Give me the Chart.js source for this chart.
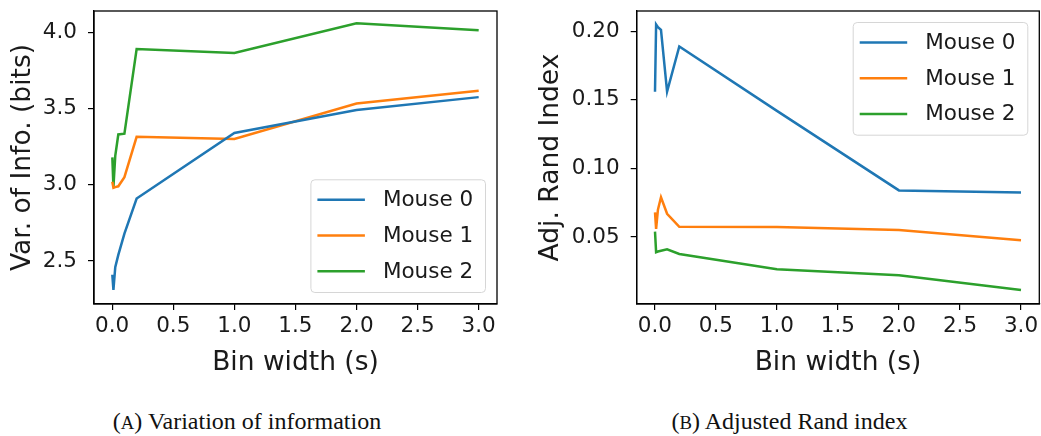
<!DOCTYPE html>
<html>
<head>
<meta charset="utf-8">
<script src="https://cdn.jsdelivr.net/npm/chart.js@4.4.1/dist/chart.umd.min.js"></script>
<style>
  body { margin: 0; background: #fff; width: 1041px; height: 436px; overflow: hidden; position: relative; }
  .panel { position: absolute; top: 0; }
  .caption { position: absolute; top: 408px; font-family: "Liberation Serif", "Times New Roman", serif; font-size: 24px; line-height: 26px; color: #111; text-align: center; white-space: nowrap; }
  .sc { font-size: 0.78em; }
</style>
</head>
<body>
<div class="panel" style="left:0"><canvas id="viChart" width="520" height="400"></canvas></div>
<div class="panel" style="left:520px"><canvas id="ariChart" width="521" height="400"></canvas></div>
<div class="caption" style="left:0; width:494px">(<span class="sc">A</span>) Variation of information</div>
<div class="caption" style="left:520px; width:539px">(<span class="sc">B</span>) Adjusted Rand index</div>
<script>
// bin widths in seconds (shared by both panels)
const binWidths = [0.001, 0.01, 0.025, 0.05, 0.1, 0.2, 1, 2, 3];
const seriesNames = ['Mouse 0', 'Mouse 1', 'Mouse 2'];
const seriesColors = ['#1f77b4', '#ff7f0e', '#2ca02c'];

// (A) variation of information, bits
const viMouse0 = [2.41, 2.31, 2.46, 2.54, 2.68, 2.91, 3.34, 3.49, 3.575];
const viMouse1 = [3.02, 2.98, 2.985, 2.99, 3.05, 3.315, 3.30, 3.533, 3.617];
const viMouse2 = [3.18, 2.985, 3.19, 3.33, 3.335, 3.89, 3.865, 4.06, 4.013];

// (B) adjusted Rand index
const ariMouse0 = [0.156, 0.205, 0.203, 0.201, 0.156, 0.189, 0.142, 0.084, 0.0825];
const ariMouse1 = [0.068, 0.056, 0.070, 0.079, 0.067, 0.0575, 0.0573, 0.0552, 0.0477];
const ariMouse2 = [0.054, 0.039, 0.0395, 0.040, 0.041, 0.0377, 0.0265, 0.0222, 0.0114];

// tick values and labels
const xTicks = [0, 0.5, 1, 1.5, 2, 2.5, 3];
const xTickLabels = ['0.0', '0.5', '1.0', '1.5', '2.0', '2.5', '3.0'];
const viTicks = [2.5, 3.0, 3.5, 4.0];
const viTickLabels = ['2.5', '3.0', '3.5', '4.0'];
const ariTicks = [0.05, 0.10, 0.15, 0.20];
const ariTickLabels = ['0.05', '0.10', '0.15', '0.20'];

const textColor = '#1a1a1a';
const sans = "'DejaVu Sans', sans-serif";

// black frame round the plot area (matplotlib style axes box)
const framePlugin = {
    id: 'frame',
    afterDraw(chart) {
        const { ctx, chartArea: a } = chart;
        ctx.save();
        ctx.strokeStyle = '#000';
        ctx.lineWidth = 1.3;
        ctx.strokeRect(a.left, a.top, a.right - a.left, a.bottom - a.top);
        ctx.restore();
    }
};

// legend box drawn inside the plot area
const insideLegendPlugin = {
    id: 'insideLegend',
    afterDraw(chart, args, opts) {
        const { ctx, chartArea: a } = chart;
        const w = 174.6, h = 112.7, inset = 11.5;
        const left = a.right - inset - w;
        const top = opts.corner === 'upper' ? a.top + inset : a.bottom - inset - h;
        ctx.save();
        ctx.beginPath();
        ctx.roundRect(left, top, w, h, 4);
        ctx.fillStyle = 'rgba(255,255,255,0.8)';
        ctx.fill();
        ctx.strokeStyle = '#d6d6d6';
        ctx.lineWidth = 1;
        ctx.stroke();
        ctx.font = '21.5px ' + sans;
        ctx.textBaseline = 'middle';
        chart.data.datasets.forEach((ds, i) => {
            const y = top + 20 + i * 35.7;
            ctx.beginPath();
            ctx.moveTo(left + 6.5, y);
            ctx.lineTo(left + 54, y);
            ctx.strokeStyle = ds.borderColor;
            ctx.lineWidth = 2.5;
            ctx.stroke();
            ctx.fillStyle = textColor;
            ctx.fillText(ds.label, left + 72, y + 1);
        });
        ctx.restore();
    }
};

function makeChart(canvasId, series, yTicks, yTickLabels, yMin, yMax, yTitle, yWidth, yTitlePad, rightPad, legendCorner) {
    const datasets = series.map((values, i) => ({
        label: seriesNames[i],
        data: binWidths.map((x, j) => ({ x: x, y: values[j] })),
        borderColor: seriesColors[i],
        backgroundColor: seriesColors[i],
        borderWidth: 2.5,
        pointRadius: 0,
        tension: 0,
        fill: false
    }));

    return new Chart(document.getElementById(canvasId), {
        type: 'line',
        data: { datasets },
        options: {
            responsive: false,
            animation: false,
            devicePixelRatio: 1,
            layout: { padding: { top: 11, right: rightPad, bottom: 0, left: 0 } },
            plugins: {
                legend: { display: false },
                tooltip: { enabled: false },
                insideLegend: { corner: legendCorner }
            },
            scales: {
                x: {
                    type: 'linear',
                    min: -0.149,
                    max: 3.15,
                    afterBuildTicks: (s) => { s.ticks = xTicks.map(v => ({ value: v })); },
                    afterFit: (s) => { s.height = 96; s.paddingLeft = 0; s.paddingRight = 0; },
                    grid: { drawOnChartArea: false, drawTicks: true, tickLength: 6, color: '#000', lineWidth: 1.2 },
                    border: { display: true, color: '#000', width: 1.3 },
                    ticks: {
                        autoSkip: false,
                        maxRotation: 0,
                        padding: 4,
                        color: textColor,
                        font: { family: sans, size: 21.5 },
                        callback: (v, i) => xTickLabels[i]
                    },
                    title: {
                        display: true,
                        text: 'Bin width (s)',
                        color: textColor,
                        font: { family: sans, size: 26.5 },
                        padding: { top: 0, bottom: 21 }
                    }
                },
                y: {
                    type: 'linear',
                    min: yMin,
                    max: yMax,
                    afterBuildTicks: (s) => { s.ticks = yTicks.map(v => ({ value: v })); },
                    afterFit: (s) => { s.width = yWidth; s.paddingTop = 0; s.paddingBottom = 0; },
                    grid: { drawOnChartArea: false, drawTicks: true, tickLength: 6, color: '#000', lineWidth: 1.2 },
                    border: { display: true, color: '#000', width: 1.3 },
                    ticks: {
                        padding: 11,
                        color: textColor,
                        font: { family: sans, size: 21.5 },
                        callback: (v, i) => yTickLabels[i]
                    },
                    title: {
                        display: true,
                        text: yTitle,
                        color: textColor,
                        font: { family: sans, size: 26.5 },
                        padding: { top: yTitlePad, bottom: 0 }
                    }
                }
            }
        },
        plugins: [framePlugin, insideLegendPlugin]
    });
}

makeChart('viChart', [viMouse0, viMouse1, viMouse2], viTicks, viTickLabels, 2.218, 4.14,
    'Var. of Info. (bits)', 94, 7, 23, 'lower');
makeChart('ariChart', [ariMouse0, ariMouse1, ariMouse2], ariTicks, ariTickLabels, 0.0012, 0.2148,
    'Adj. Rand Index', 116.7, 15, 1.7, 'upper');
</script>
</body>
</html>
